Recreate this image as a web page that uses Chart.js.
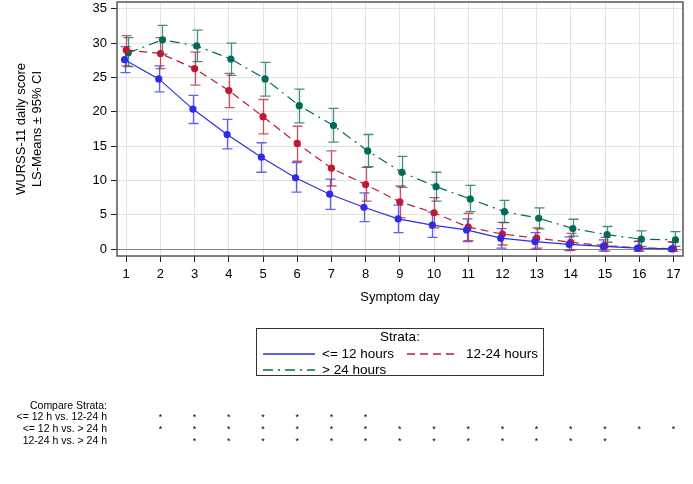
<!DOCTYPE html>
<html>
<head>
<meta charset="utf-8">
<script src="https://cdn.jsdelivr.net/npm/chart.js@4"></script>
<style>
  body { margin: 0; background: #fff; }
  #wrap { position: relative; width: 693px; height: 484px; overflow: hidden; font-family: "Liberation Sans", Arial, sans-serif; color: #000; }
  #grafico { position: absolute; left: 0; top: -2px; }
  #leyenda { position: absolute; left: 256px; top: 328px; width: 286px; height: 46px; border: 1px solid #333; font-size: 13.5px; }
  #leyenda .tit { position: absolute; left: 0; width: 100%; top: 0; text-align: center; line-height: 16px; }
  #leyenda .item { position: absolute; line-height: 16px; white-space: nowrap; }
  #leyenda svg { position: absolute; }
  #comparar { font-family: "Liberation Sans Narrow", "Liberation Sans", Arial, sans-serif; font-size: 10.5px; }
  .fila { position: absolute; right: 586px; white-space: nowrap; text-align: right; line-height: 12px; }
  .estrella { position: absolute; font-size: 9px; line-height: 12px; width: 10px; margin-left: -5px; text-align: center; }
</style>
</head>
<body>
<div id="wrap">
  <canvas id="grafico" width="693" height="486"></canvas>
  <div id="leyenda"></div>
  <div id="comparar"></div>
</div>
<script>
var dias = [1, 2, 3, 4, 5, 6, 7, 8, 9, 10, 11, 12, 13, 14, 15, 16, 17];
var ticksY = [0, 5, 10, 15, 20, 25, 30, 35];

// <= 12 hours
var media12 = [27.6, 24.8, 20.4, 16.7, 13.4, 10.4, 8.0, 6.1, 4.4, 3.5, 2.8, 1.6, 1.1, 0.7, 0.4, 0.15, 0.05];
var inf12 = [25.7, 22.9, 18.3, 14.6, 11.2, 8.3, 5.8, 4.0, 2.4, 1.7, 1.1, 0.15, 0.0, -0.2, -0.3, -0.3, -0.3];
var sup12 = [29.5, 26.7, 22.4, 18.9, 15.5, 12.6, 10.2, 8.2, 6.4, 5.4, 4.4, 3.0, 2.4, 1.8, 1.35, 1.1, 1.1];

// 12-24 hours
var media1224 = [29.0, 28.5, 26.3, 23.1, 19.3, 15.4, 11.8, 9.4, 6.9, 5.3, 3.2, 2.2, 1.6, 1.0, 0.5, 0.2, 0.05];
var inf1224 = [26.7, 26.3, 23.9, 20.6, 16.8, 12.8, 9.2, 7.0, 4.6, 3.1, 1.25, 0.6, 0.15, -0.1, -0.3, -0.3, -0.3];
var sup1224 = [31.1, 30.8, 28.7, 25.6, 21.8, 17.9, 14.3, 11.9, 9.2, 7.5, 5.2, 3.9, 3.1, 2.3, 1.7, 1.2, 1.0];

// > 24 hours
var media24 = [28.6, 30.5, 29.6, 27.7, 24.8, 20.9, 18.0, 14.3, 11.2, 9.1, 7.3, 5.45, 4.5, 3.0, 2.1, 1.45, 1.35];
var inf24 = [26.6, 28.4, 27.3, 25.3, 22.3, 18.4, 15.6, 12.0, 9.0, 7.0, 5.45, 3.85, 2.95, 1.9, 1.0, 0.4, 0.4];
var sup24 = [30.8, 32.6, 31.9, 30.0, 27.2, 23.3, 20.5, 16.7, 13.5, 11.2, 9.3, 7.1, 6.0, 4.35, 3.3, 2.65, 2.55];

// comparaciones significativas (dias con *)
var filasComparar = ['<= 12 h vs. 12-24 h', '<= 12 h vs. > 24 h', '12-24 h vs. > 24 h'];
var diasComp1 = [2, 3, 4, 5, 6, 7, 8];
var diasComp2 = [2, 3, 4, 5, 6, 7, 8, 9, 10, 11, 12, 13, 14, 15, 16, 17];
var diasComp3 = [3, 4, 5, 6, 7, 8, 9, 10, 11, 12, 13, 14, 15];

var grupos = [
  { label: '<= 12 hours', media: media12, inf: inf12, sup: sup12, color: '#2d2de6', barra: 'rgba(45,45,230,0.75)', dash: [], desp: -0.05 },
  { label: '12-24 hours', media: media1224, inf: inf1224, sup: sup1224, color: '#bd1a32', barra: 'rgba(189,26,50,0.75)', dash: [8, 5], desp: 0 },
  { label: '> 24 hours', media: media24, inf: inf24, sup: sup24, color: '#006b58', barra: 'rgba(0,107,88,0.75)', dash: [10, 5, 2, 5], desp: 0.06 }
];

var datasets = grupos.map(function (g) {
  return {
    label: g.label,
    data: dias.map(function (d, i) { return { x: d + g.desp, y: g.media[i] }; }),
    borderColor: g.color,
    backgroundColor: g.color,
    borderWidth: 1.2,
    borderDash: g.dash,
    pointRadius: 3.6,
    pointBorderWidth: 0,
    fill: false,
    tension: 0
  };
});

// barras de error (IC 95%)
var barrasError = {
  id: 'barrasError',
  beforeDatasetsDraw: function (chart) {
    var ctx = chart.ctx;
    var x = chart.scales.x, y = chart.scales.y;
    ctx.save();
    grupos.forEach(function (g) {
      ctx.strokeStyle = g.barra;
      ctx.lineWidth = 1.3;
      dias.forEach(function (d, i) {
        var px = Math.round(x.getPixelForValue(d + g.desp)) + 0.5;
        var y1 = y.getPixelForValue(g.inf[i]);
        var y2 = y.getPixelForValue(g.sup[i]);
        ctx.beginPath();
        ctx.moveTo(px, y1); ctx.lineTo(px, y2);
        ctx.moveTo(px - 5, y1); ctx.lineTo(px + 5, y1);
        ctx.moveTo(px - 5, y2); ctx.lineTo(px + 5, y2);
        ctx.stroke();
      });
    });
    ctx.restore();
  },
  afterDraw: function (chart) {
    var a = chart.chartArea, ctx = chart.ctx;
    ctx.save();
    ctx.strokeStyle = '#555';
    ctx.lineWidth = 1.5;
    ctx.strokeRect(a.left, a.top, a.right - a.left, a.bottom - a.top);
    ctx.restore();
  }
};

var grafico = new Chart(document.getElementById('grafico').getContext('2d'), {
  type: 'line',
  data: { datasets: datasets },
  options: {
    responsive: false,
    animation: false,
    layout: { padding: { left: 0, right: 10, top: 0, bottom: 175 } },
    plugins: { legend: { display: false }, tooltip: { enabled: false } },
    scales: {
      x: {
        type: 'linear',
        min: 0.73,
        max: 17.28,
        afterBuildTicks: function (s) { s.ticks = dias.map(function (d) { return { value: d }; }); },
        afterFit: function (s) { s.height = 53; s.paddingLeft = 0; s.paddingRight = 0; },
        border: { display: false },
        grid: { color: '#e2e2e2', tickColor: '#222', tickLength: 6, lineWidth: 1 },
        ticks: { color: '#000', font: { family: 'Liberation Sans', size: 13 }, padding: 5, maxRotation: 0 },
        title: { display: true, text: 'Symptom day', color: '#000', font: { family: 'Liberation Sans', size: 13 }, padding: { top: 4, bottom: 4 } }
      },
      y: {
        type: 'linear',
        min: -1,
        max: 36,
        afterBuildTicks: function (s) { s.ticks = ticksY.map(function (v) { return { value: v }; }); },
        afterFit: function (s) { s.width = 117; s.paddingTop = 0; s.paddingBottom = 0; },
        border: { display: false },
        grid: {
          color: function (c) { return c.tick && c.tick.value === 0 ? '#888' : '#e2e2e2'; },
          tickColor: '#222', tickLength: 6, lineWidth: 1
        },
        ticks: { color: '#000', font: { family: 'Liberation Sans', size: 13 }, padding: 4 },
        title: {
          display: true,
          text: ['WURSS-11 daily score', 'LS-Means \u00b1 95% CI'],
          color: '#000',
          font: { family: 'Liberation Sans', size: 13 },
          padding: { top: 14, bottom: 0 }
        }
      }
    }
  },
  plugins: [barrasError]
});

// leyenda
var leyenda = document.getElementById('leyenda');
var html = '<div class="tit">Strata:</div>';
var posLeyenda = [[6, 17], [150, 17], [6, 33]];
grupos.forEach(function (g, i) {
  var p = posLeyenda[i];
  html += '<svg width="52" height="6" style="left:' + p[0] + 'px;top:' + (p[1] + 5) + 'px">' +
    '<line x1="0" y1="3" x2="52" y2="3" stroke="' + g.color + '" stroke-width="1.3"' +
    (g.dash.length ? ' stroke-dasharray="' + g.dash.join(',') + '"' : '') + '/></svg>';
  html += '<div class="item" style="left:' + (p[0] + 59) + 'px;top:' + p[1] + 'px">' + g.label.replace('<', '&lt;').replace('>', '&gt;') + '</div>';
});
leyenda.innerHTML = html;

// tabla de comparaciones
var comparar = document.getElementById('comparar');
var ch = '<div class="fila" style="top:399px">Compare Strata:</div>';
var filasY = [410, 422, 434];
[diasComp1, diasComp2, diasComp3].forEach(function (lista, i) {
  ch += '<div class="fila" style="top:' + filasY[i] + 'px">' + filasComparar[i].replace(/</g, '&lt;').replace(/>/g, '&gt;') + '</div>';
  lista.forEach(function (d) {
    var px = grafico.scales.x.getPixelForValue(d);
    ch += '<div class="estrella" style="left:' + px + 'px;top:' + (filasY[i] + 1) + 'px">*</div>';
  });
});
comparar.innerHTML = ch;
</script>
</body>
</html>
